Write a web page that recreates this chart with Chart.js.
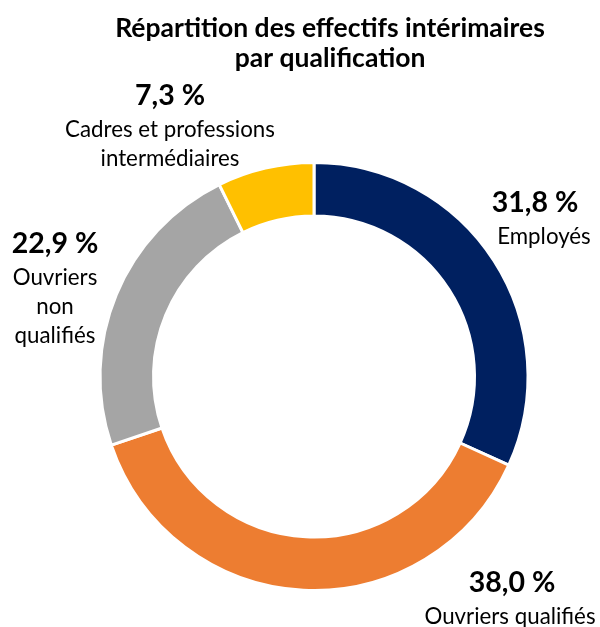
<!DOCTYPE html>
<html>
<head>
<meta charset="utf-8">
<script src="https://cdn.jsdelivr.net/npm/chart.js@4.4.1/dist/chart.umd.min.js"></script>
<style>
  html, body { margin: 0; padding: 0; background: #ffffff; }
  #wrap { position: relative; width: 600px; height: 627px; }
  canvas { display: block; }
</style>
</head>
<body>
<div id="wrap"><canvas id="c" width="600" height="627"></canvas></div>
<script>
// ---- Data ----
const titleLines = ['Répartition des effectifs intérimaires', 'par qualification'];
const categories = ['Employés', 'Ouvriers qualifiés', 'Ouvriers non qualifiés', 'Cadres et professions intermédiaires'];
const values = [31.8, 38.0, 22.9, 7.3];
const colors = ['#002060', '#ED7D31', '#A5A5A5', '#FFC000'];

// ---- Layout (label placement, not data) ----
const FONT = 'Lato, "Open Sans", sans-serif';
const labelLayout = [
  { lines: ['Employés'], x: [535, 544], y: 212 },
  { lines: ['Ouvriers qualifiés'], x: [512, 510], y: 592 },
  { lines: ['Ouvriers', 'non', 'qualifiés'], x: [55, 55, 55, 55], y: 253 },
  { lines: ['Cadres et professions', 'intermédiaires'], x: [170, 170, 170], y: 105 }
];

function fmt(v) { return v.toFixed(1).replace('.', ',') + ' %'; }

const textPlugin = {
  id: 'texts',
  afterDraw(chart) {
    const ctx = chart.ctx;
    ctx.save();
    ctx.fillStyle = '#000000';
    ctx.textAlign = 'center';
    ctx.textBaseline = 'alphabetic';
    // title
    ctx.font = 'bold 26.5px ' + FONT;
    ctx.fillText(titleLines[0], 330, 37);
    ctx.fillText(titleLines[1], 330, 67);
    // labels
    labelLayout.forEach((L, i) => {
      ctx.font = 'bold 28.5px ' + FONT;
      ctx.fillText(fmt(values[i]), L.x[0], L.y);
      ctx.font = '22.3px ' + FONT;
      L.lines.forEach((t, j) => {
        ctx.fillText(t, L.x[j + 1] !== undefined ? L.x[j + 1] : L.x[0], L.y + 31.5 + j * 29);
      });
    });
    ctx.restore();
  }
};

new Chart(document.getElementById('c'), {
  type: 'doughnut',
  data: {
    labels: categories,
    datasets: [{
      data: values,
      backgroundColor: colors,
      borderColor: '#ffffff',
      borderWidth: 3,
      hoverBorderWidth: 3,
      hoverOffset: 0,
      offset: 0
    }]
  },
  options: {
    responsive: false,
    animation: false,
    cutout: '75%',
    rotation: 0,
    layout: { padding: { left: 98.5, right: 70.5, top: 161, bottom: 35 } },
    plugins: {
      legend: { display: false },
      tooltip: { enabled: false },
      title: { display: false }
    },
    events: []
  },
  plugins: [textPlugin]
});
</script>
</body>
</html>
